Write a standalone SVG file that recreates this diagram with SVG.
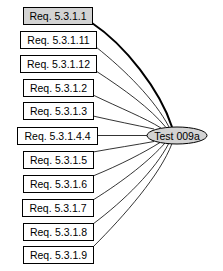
<svg xmlns="http://www.w3.org/2000/svg" width="223" height="271" viewBox="0 0 223 271">
<style>
.box{fill:#fff;stroke:#000;stroke-width:1}
.sel{fill:#d3d3d3}
.t{font-family:"Liberation Sans",Arial,sans-serif;font-size:10.5px;fill:#000;text-anchor:middle}
.e{fill:none;stroke:#000;stroke-width:0.8}
.thick{stroke-width:2}
</style>
<rect width="223" height="271" fill="#fff"/>
<g id="connectors">
<path class="e thick" d="M92,23 C125,45 160,90 172,127"/>
<path class="e" d="M96,47 C125,70 155,100 169,127"/>
<path class="e" d="M96,71 C125,90 150,108 166,127.5"/>
<path class="e" d="M93,95 C120,108 145,118 161,128"/>
<path class="e" d="M93,116 C115,121 135,125 154,129"/>
<path class="e" d="M97,135.5 L147,135.5"/>
<path class="e" d="M93,152 C115,148 135,145 154,141.5"/>
<path class="e" d="M93,176 C120,165 145,152 160,142.5"/>
<path class="e" d="M93,200 C125,180 150,160 165,143"/>
<path class="e" d="M93,224 C125,200 155,170 169,143"/>
<path class="e" d="M93,247 C125,215 160,175 172,143.5"/>
</g>
<g id="n1"><rect class="box sel" x="23.5" y="7.5" width="69" height="17"/><text class="t" x="58" y="19.5">Req. 5.3.1.1</text></g>
<g id="n2"><rect class="box" x="20.5" y="31.5" width="76" height="17"/><text class="t" x="58.5" y="43.5">Req. 5.3.1.11</text></g>
<g id="n3"><rect class="box" x="20.5" y="55.5" width="76" height="17"/><text class="t" x="58.5" y="67.5">Req. 5.3.1.12</text></g>
<g id="n4"><rect class="box" x="23.5" y="79.5" width="70" height="17"/><text class="t" x="58.5" y="91.5">Req. 5.3.1.2</text></g>
<g id="n5"><rect class="box" x="23.5" y="102.5" width="70" height="17"/><text class="t" x="58.5" y="114.5">Req. 5.3.1.3</text></g>
<g id="n6"><rect class="box" x="17.5" y="127.5" width="80" height="17"/><text class="t" x="57.5" y="139.5">Req. 5.3.1.4.4</text></g>
<g id="n7"><rect class="box" x="23.5" y="151.5" width="70" height="17"/><text class="t" x="58.5" y="163.5">Req. 5.3.1.5</text></g>
<g id="n8"><rect class="box" x="23.5" y="175.5" width="70" height="17"/><text class="t" x="58.5" y="187.5">Req. 5.3.1.6</text></g>
<g id="n9"><rect class="box" x="22.5" y="199.5" width="71" height="17"/><text class="t" x="58" y="211.5">Req. 5.3.1.7</text></g>
<g id="n10"><rect class="box" x="23.5" y="223.5" width="70" height="17"/><text class="t" x="58.5" y="235.5">Req. 5.3.1.8</text></g>
<g id="n11"><rect class="box" x="23.5" y="246.5" width="70" height="17"/><text class="t" x="58.5" y="258.5">Req. 5.3.1.9</text></g>
<g id="test"><ellipse cx="177" cy="135.5" rx="30" ry="8.5" fill="#d3d3d3" stroke="#000" stroke-width="1"/><text class="t" x="177" y="139.5">Test 009a</text></g>
</svg>
